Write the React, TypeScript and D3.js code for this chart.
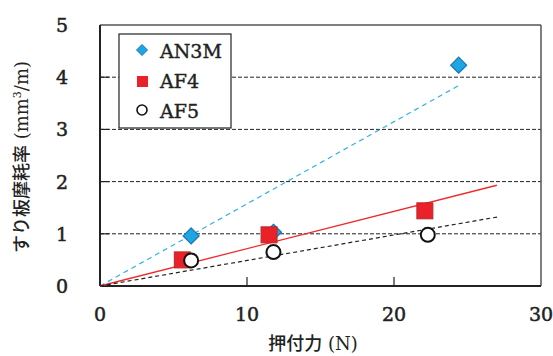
import React from 'react';
import * as d3 from 'd3';

const seriesNames = ['AN3M', 'AF4', 'AF5'];
const an3mX = [6.2, 11.8, 24.4];
const an3mY = [0.96, 1.03, 4.23];
const af4X = [5.6, 11.5, 22.1];
const af4Y = [0.5, 0.98, 1.44];
const af5X = [6.2, 11.8, 22.3];
const af5Y = [0.49, 0.65, 0.98];
// trend lines through origin: end point of each
const trendEndX = [24.4, 27.0, 27.2];
const trendEndY = [3.84, 1.93, 1.33];
const xTicks = [0, 10, 20, 30];
const yTicks = [0, 1, 2, 3, 4, 5];

const W = 553;
const H = 356;
const margin = { left: 100, right: 12, top: 25, bottom: 70 };

const App = () => {
  const x = d3.scaleLinear().domain([0, 30]).range([margin.left, 541]);
  const y = d3.scaleLinear().domain([0, 5]).range([286, margin.top]);
  const num = "'DejaVu Serif', 'Liberation Serif', serif";
  const jp = "'Noto Sans CJK JP', sans-serif";

  const line = d3.line<[number, number]>().x((d) => x(d[0])).y((d) => y(d[1]));
  const trendStyles = [
    { stroke: '#2fb0e6', dash: '5,4', width: 1.2 },
    { stroke: '#ee2a2a', dash: '', width: 1.3 },
    { stroke: '#222', dash: '4,3', width: 1.2 },
  ];

  const diamond = (cx: number, cy: number, r: number) =>
    `M${cx},${cy - r}L${cx + r},${cy}L${cx},${cy + r}L${cx - r},${cy}Z`;

  return (
    <svg
      width={W}
      height={H}
      style={{ position: 'absolute', left: 0, top: 0, background: '#fff' }}
    >
      {/* grid */}
      {yTicks.slice(1, 5).map((t) => (
        <line
          key={'g' + t}
          x1={x(0)}
          x2={x(30)}
          y1={y(t)}
          y2={y(t)}
          stroke="#222"
          strokeWidth={1}
          strokeDasharray="4,2"
        />
      ))}
      {/* frame */}
      <line x1={x(0)} x2={x(30)} y1={y(5)} y2={y(5)} stroke="#555" strokeWidth={1.5} />
      <line x1={x(30)} x2={x(30)} y1={y(5)} y2={y(0)} stroke="#555" strokeWidth={1.5} />
      <line x1={x(0)} x2={x(0)} y1={y(5)} y2={y(0)} stroke="#222" strokeWidth={2} />
      <line x1={x(0)} x2={x(30)} y1={y(0)} y2={y(0)} stroke="#222" strokeWidth={2} />
      {/* ticks */}
      {xTicks.slice(1, 3).map((t) => (
        <line key={'xt' + t} x1={x(t)} x2={x(t)} y1={y(0)} y2={y(0) - 9} stroke="#222" strokeWidth={1.2} />
      ))}
      {yTicks.slice(1, 5).map((t) => (
        <line key={'yt' + t} x1={x(0)} x2={x(0) + 9} y1={y(t)} y2={y(t)} stroke="#222" strokeWidth={1.2} />
      ))}
      {/* tick labels */}
      {xTicks.map((t) => (
        <text key={'xl' + t} x={x(t)} y={321} textAnchor="middle" fontFamily={num} fontSize={19} fill="#222" stroke="#222" strokeWidth={0.5}>
          {t}
        </text>
      ))}
      {yTicks.map((t) => (
        <text key={'yl' + t} x={68} y={y(t) + 7} textAnchor="end" fontFamily={num} fontSize={19} fill="#222" stroke="#222" strokeWidth={0.5}>
          {t}
        </text>
      ))}
      {/* trend lines */}
      {trendEndX.map((ex, i) => (
        <path
          key={'tr' + i}
          d={line([[0, 0], [ex, trendEndY[i]]]) || ''}
          fill="none"
          stroke={trendStyles[i].stroke}
          strokeWidth={trendStyles[i].width}
          strokeDasharray={trendStyles[i].dash}
        />
      ))}
      {/* AN3M */}
      {an3mX.map((v, i) => (
        <path key={'a' + i} d={diamond(x(v), y(an3mY[i]), 8)} fill="#1ea6e0" stroke="#1a72b8" strokeWidth={1.2} />
      ))}
      {/* AF4 */}
      {af4X.map((v, i) => (
        <rect
          key={'b' + i}
          x={x(v) - 8}
          y={y(af4Y[i]) - 8}
          width={16}
          height={16}
          fill="#e82228"
          stroke="#b8282a"
          strokeWidth={1}
        />
      ))}
      {/* AF5 */}
      {af5X.map((v, i) => (
        <circle key={'c' + i} cx={x(v)} cy={y(af5Y[i])} r={7} fill="#fff" stroke="#111" strokeWidth={2} />
      ))}
      {/* legend */}
      <rect x={119} y={34} width={112} height={94} fill="#fff" stroke="#222" strokeWidth={1.2} />
      <path d={diamond(142, 50, 5.5)} fill="#1ea6e0" stroke="#1a72b8" strokeWidth={1} />
      <rect x={137} y={76} width={11} height={11} fill="#e82228" />
      <circle cx={142} cy={110} r={5} fill="#fff" stroke="#111" strokeWidth={1.6} />
      {seriesNames.map((n, i) => (
        <text key={'ln' + n} x={160} y={58 + i * 30} fontFamily={num} fontSize={19} fill="#222" stroke="#222" strokeWidth={0.4}>
          {n}
        </text>
      ))}
      {/* axis titles */}
      <text
        transform="translate(28,157) rotate(-90)"
        textAnchor="middle"
        fontFamily={jp}
        fontSize={18}
        fontWeight={500}
        fill="#222"
      >
        すり板摩耗率
        <tspan fontFamily={num} fontWeight={400}> (mm</tspan>
        <tspan fontFamily={num} fontWeight={400} fontSize={11} dy={-7}>3</tspan>
        <tspan fontFamily={num} fontWeight={400} dy={7}>/m)</tspan>
      </text>
      <text x={313} y={350} textAnchor="middle" fontFamily={jp} fontSize={18} fontWeight={500} fill="#222">
        押付力
        <tspan fontFamily={num} fontWeight={400}> (N)</tspan>
      </text>
    </svg>
  );
};

export default App;
